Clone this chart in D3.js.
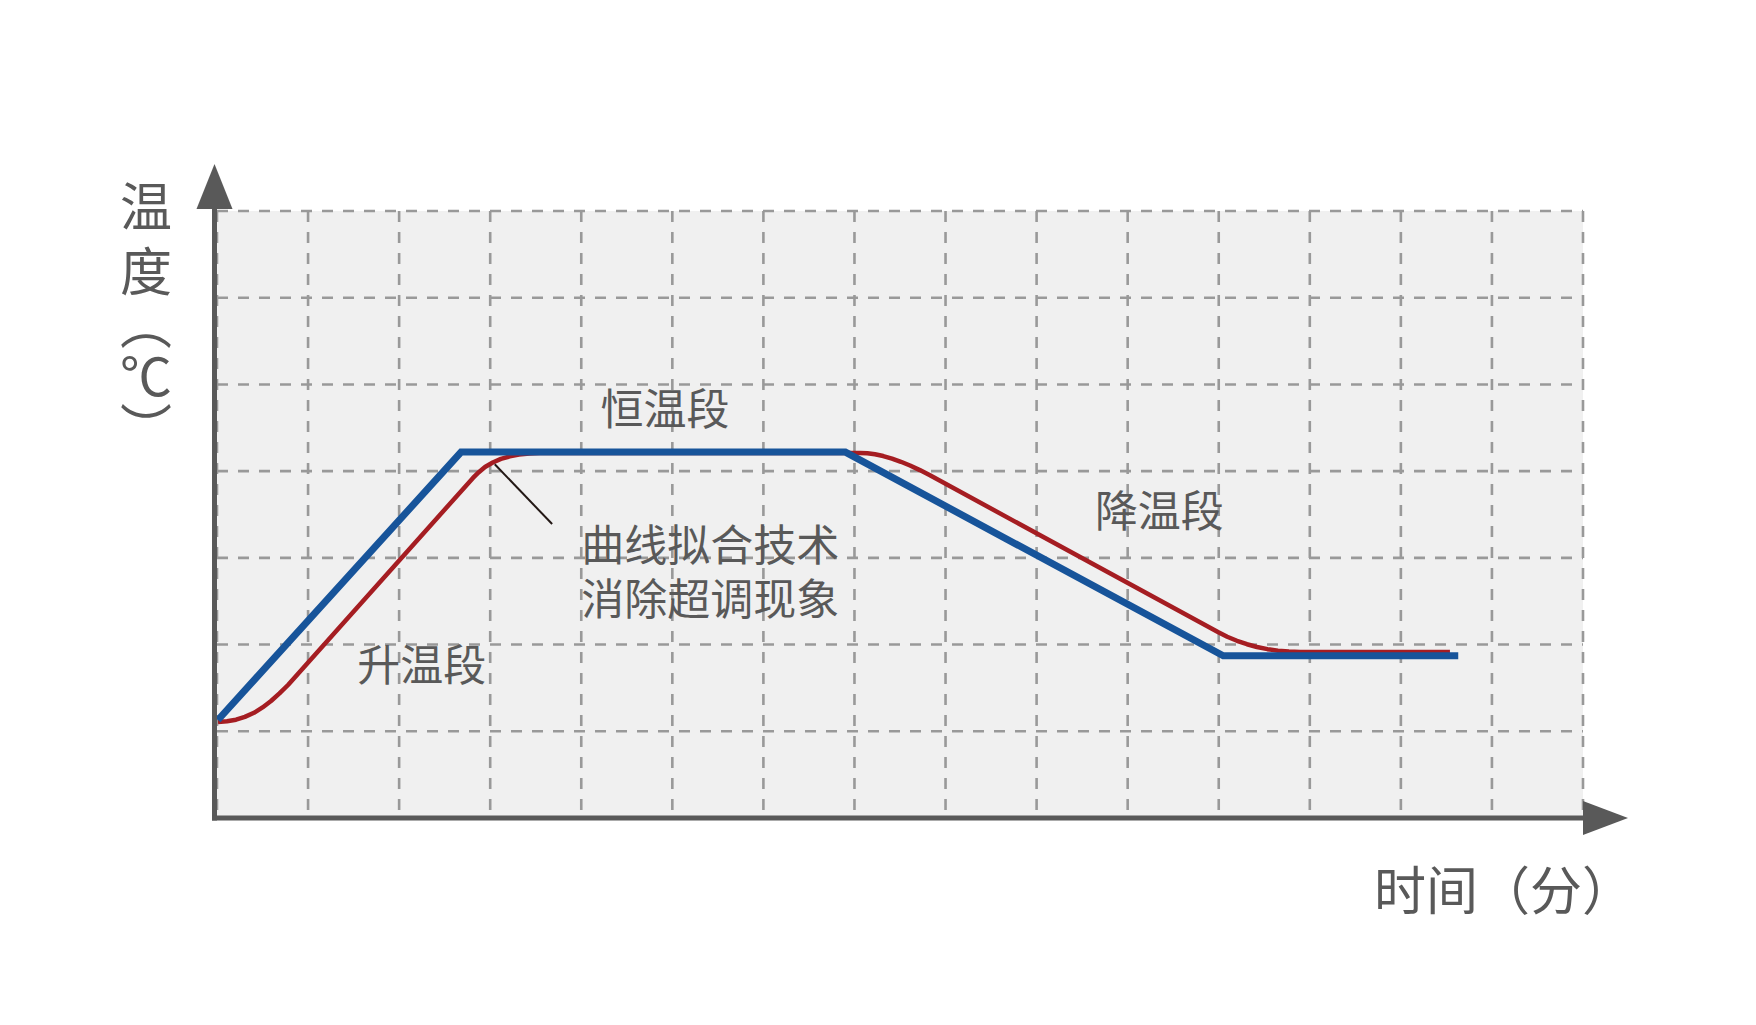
<!DOCTYPE html>
<html>
<head>
<meta charset="utf-8">
<script src="https://cdn.jsdelivr.net/npm/d3@7"></script>
<style>
  html, body { margin: 0; padding: 0; background: #fff; }
  svg { display: block; }
  text { font-family: "Noto Sans CJK SC", "Noto Sans", sans-serif; fill: #595959; }
</style>
</head>
<body>
<svg id="chart"></svg>
<script>
'use strict';

// grid positions (time / temperature units)
var xGrid = d3.range(0, 16),
    yGrid = d3.range(1, 8);

// set temperature curve (blue) - [time, temp]
var setCurve = [
    [0.01, 1.13],
    [2.68, 4.22],
    [6.90, 4.22],
    [11.05, 1.87],
    [13.63, 1.87]
];

var fitCurve = [
    [0.011, 1.107], [0.110, 1.115], [0.209, 1.134], [0.306, 1.166], [0.406, 1.213],
    [0.500, 1.275], [0.593, 1.349], [0.686, 1.437], [0.780, 1.534],
    [2.811, 3.922], [2.875, 3.988], [2.943, 4.048], [3.028, 4.100], [3.118, 4.141],
    [3.215, 4.170], [3.316, 4.191], [3.430, 4.204], [3.547, 4.210],
    [7.061, 4.210], [7.142, 4.206], [7.225, 4.194], [7.316, 4.174], [7.412, 4.145],
    [7.510, 4.108], [7.610, 4.065], [7.718, 4.012], [7.829, 3.952],
    [10.991, 2.145], [11.093, 2.090], [11.200, 2.044], [11.310, 2.004], [11.420, 1.972],
    [11.535, 1.947], [11.650, 1.929], [11.770, 1.919], [11.892, 1.915],
    [13.539, 1.915]
];

// leader line for the annotation
var leader = [[3.05, 4.08], [3.68, 3.39]];

var stageLabels = [
    { text: '升温段', t: 1.54, v: 1.80 },
    { text: '恒温段', t: 4.21, v: 4.75 },
    { text: '降温段', t: 9.64, v: 3.58 }
];

var noteLines = ['曲线拟合技术', '消除超调现象'];

var W = 1756, H = 1025;
var svg = d3.select('#chart').attr('width', W).attr('height', H);

var x = d3.scaleLinear().domain([0, 15]).range([217, 1583]);
var y = d3.scaleLinear().domain([0, 7]).range([818, 211]);

// plot background
svg.append('rect')
    .attr('x', x(0) - 4).attr('y', y(7))
    .attr('width', x(15) - x(0) + 4).attr('height', y(0) - y(7))
    .attr('fill', '#f0f0f0');

// dashed grid
var grid = svg.append('g').attr('class', 'grid')
    .attr('stroke', '#999').attr('stroke-width', 2.6).attr('stroke-dasharray', '11,10');

grid.selectAll('line.v').data(xGrid).enter().append('line')
    .attr('class', 'v')
    .attr('x1', function (d) { return x(d); }).attr('x2', function (d) { return x(d); })
    .attr('y1', y(7)).attr('y2', y(0));

grid.selectAll('line.h').data(yGrid).enter().append('line')
    .attr('class', 'h')
    .attr('x1', x(0)).attr('x2', x(15))
    .attr('y1', function (d) { return y(d); }).attr('y2', function (d) { return y(d); });

// curves
var line = d3.line()
    .x(function (d) { return x(d[0]); })
    .y(function (d) { return y(d[1]); });

svg.append('path')
    .datum(fitCurve)
    .attr('d', line)
    .attr('fill', 'none').attr('stroke', '#a51d22').attr('stroke-width', 4.5)
    .attr('stroke-linejoin', 'round');

svg.append('path')
    .datum(setCurve)
    .attr('d', line)
    .attr('fill', 'none').attr('stroke', '#17549a').attr('stroke-width', 7)
    .attr('stroke-linejoin', 'miter');

svg.append('line')
    .attr('x1', x(leader[0][0])).attr('y1', y(leader[0][1]))
    .attr('x2', x(leader[1][0])).attr('y2', y(leader[1][1]))
    .attr('stroke', '#231815').attr('stroke-width', 2);

// axes with arrow heads
var axisColor = '#595959',
    ax0 = x(0) - 2.5;

svg.append('line')
    .attr('x1', ax0).attr('x2', ax0)
    .attr('y1', y(0) + 2.5).attr('y2', y(7) - 2)
    .attr('stroke', axisColor).attr('stroke-width', 5);
svg.append('path')
    .attr('d', 'M' + (ax0 - 18) + ',' + (y(7) - 2) + 'L' + (ax0 + 18) + ',' + (y(7) - 2) + 'L' + ax0 + ',' + (y(7) - 47) + 'Z')
    .attr('fill', axisColor);

svg.append('line')
    .attr('x1', ax0 - 2.5).attr('x2', x(15))
    .attr('y1', y(0)).attr('y2', y(0))
    .attr('stroke', axisColor).attr('stroke-width', 5);
svg.append('path')
    .attr('d', 'M' + x(15) + ',' + (y(0) - 17) + 'L' + x(15) + ',' + (y(0) + 17) + 'L' + (x(15) + 45) + ',' + y(0) + 'Z')
    .attr('fill', axisColor);

// stage labels
svg.selectAll('text.stage').data(stageLabels).enter().append('text')
    .attr('class', 'stage')
    .attr('x', function (d) { return x(d.t); })
    .attr('y', function (d) { return y(d.v); })
    .attr('dominant-baseline', 'central')
    .style('font-size', '43px')
    .text(function (d) { return d.text; });

// annotation (two lines in one block)
var note = svg.append('text')
    .attr('class', 'note')
    .style('font-size', '43px');
note.selectAll('tspan').data(noteLines).enter().append('tspan')
    .attr('x', x(4.0))
    .attr('y', function (d, i) { return y(3.18) + i * 54; })
    .attr('dominant-baseline', 'central')
    .text(function (d) { return d; });

// axis titles
svg.append('text')
    .attr('x', 1374).attr('y', 887)
    .attr('dominant-baseline', 'central')
    .style('font-size', '52px')
    .text('时间（分）');

var yTitle = svg.append('text')
    .attr('x', 146)
    .style('writing-mode', 'vertical-rl')
    .style('font-size', '52px');
yTitle.append('tspan').attr('y', 180).text('温');
yTitle.append('tspan').attr('y', 245).text('度');
yTitle.append('tspan').attr('y', 298).text('（℃）');
</script>
</body>
</html>
